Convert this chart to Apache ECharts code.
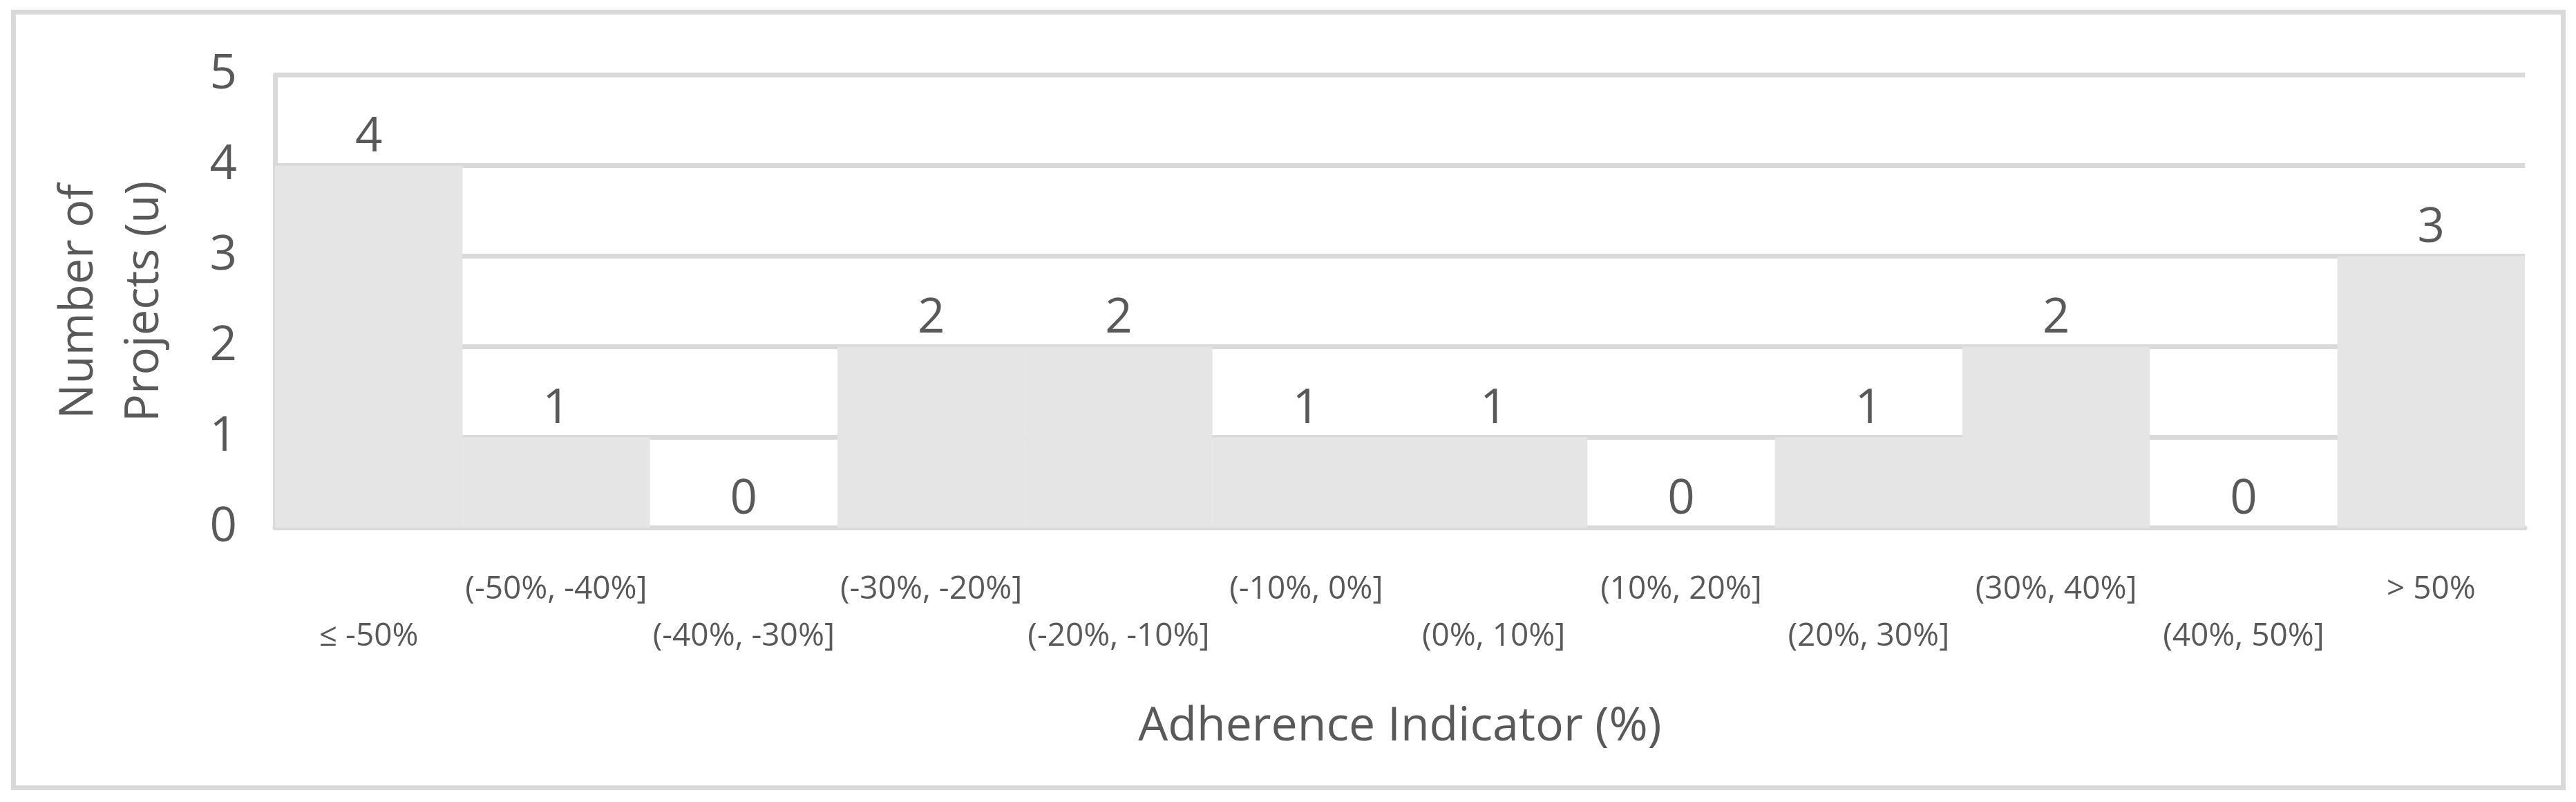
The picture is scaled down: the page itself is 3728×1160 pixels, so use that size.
<!DOCTYPE html>
<html>
<head>
<meta charset="utf-8">
<script src="https://cdn.jsdelivr.net/npm/echarts@6/dist/echarts.min.js"></script>
<style>
html,body{margin:0;padding:0;background:#fff;}
#chart{width:3728px;height:1160px;}
</style>
</head>
<body>
<div id="chart"></div>
<script>
const categories = ['≤ -50%', '(-50%, -40%]', '(-40%, -30%]', '(-30%, -20%]', '(-20%, -10%]', '(-10%, 0%]', '(0%, 10%]', '(10%, 20%]', '(20%, 30%]', '(30%, 40%]', '(40%, 50%]', '> 50%'];
const projectCounts = [4, 1, 0, 2, 2, 1, 1, 0, 1, 2, 0, 3];
const yTicks = [0, 1, 2, 3, 4, 5];
const xAxisTitle = 'Adherence Indicator (%)';
const yAxisTitle = 'Number of\nProjects (u)';

const FONT = 'Open Sans';
const TXT = '#595959';
const LINE = '#d9d9d9';

const chart = echarts.init(document.getElementById('chart'), null, {renderer: 'canvas'});
chart.setOption({
  backgroundColor: '#ffffff',
  animation: false,
  textStyle: {fontFamily: FONT, color: TXT},
  graphic: [{
    type: 'rect',
    shape: {x: 19.5, y: 17.5, width: 3690, height: 1122},
    style: {fill: 'none', stroke: LINE, lineWidth: 7},
    silent: true
  }],
  grid: {left: 398, right: 74, top: 108.5, bottom: 1160 - 763.5, containLabel: false},
  xAxis: {
    type: 'category',
    data: categories,
    boundaryGap: true,
    axisLine: {show: true, lineStyle: {color: LINE, width: 7}},
    axisTick: {show: false},
    splitLine: {show: false},
    axisLabel: {
      interval: 0,
      margin: 55,
      fontFamily: FONT,
      fontSize: 46,
      lineHeight: 68,
      color: TXT,
      formatter: function (v, i) { return i % 2 === 0 ? '\n' + v : v; }
    },
    name: xAxisTitle,
    nameLocation: 'middle',
    nameGap: 254,
    nameTextStyle: {fontFamily: FONT, fontSize: 68, lineHeight: 68, color: TXT}
  },
  yAxis: {
    type: 'value',
    min: yTicks[0],
    max: yTicks[yTicks.length - 1],
    interval: 1,
    axisLine: {show: true, lineStyle: {color: LINE, width: 7}},
    axisTick: {show: false},
    splitLine: {show: true, lineStyle: {color: LINE, width: 7}},
    axisLabel: {margin: 55, fontFamily: FONT, fontSize: 69, color: TXT},
    name: yAxisTitle,
    nameLocation: 'middle',
    nameRotate: 90,
    nameGap: 141,
    nameTextStyle: {fontFamily: FONT, fontSize: 67, lineHeight: 95, color: TXT, align: 'center'}
  },
  series: [{
    type: 'bar',
    data: projectCounts,
    barWidth: '100%',
    barCategoryGap: 0,
    itemStyle: {color: '#e5e5e5'},
    label: {
      show: true,
      position: 'top',
      distance: 5,
      fontFamily: FONT,
      fontSize: 69,
      lineHeight: 70,
      color: TXT
    }
  }]
});
</script>
</body>
</html>
